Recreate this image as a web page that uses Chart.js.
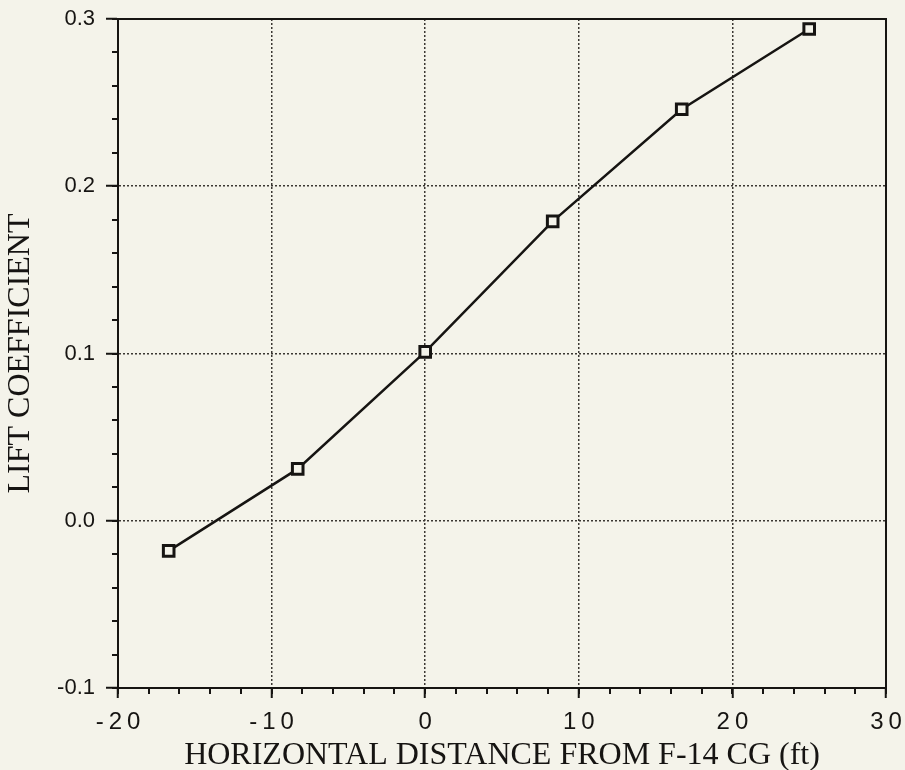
<!DOCTYPE html>
<html>
<head>
<meta charset="utf-8">
<script src="https://cdn.jsdelivr.net/npm/chart.js@4.4.0/dist/chart.umd.min.js"></script>
<style>
  html, body { margin: 0; padding: 0; background: #f4f3ea; }
  #wrap { width: 905px; height: 770px; }
</style>
</head>
<body>
<div id="wrap"><canvas id="liftChart" width="905" height="770"></canvas></div>
<script>
// values
let distances = [-16.7, -8.3, 0, 8.3, 16.7, 25];
let liftCoef = [-0.018, 0.031, 0.101, 0.179, 0.246, 0.294];
let xTicks = [-20, -10, 0, 10, 20, 30];
let yTicks = [-0.1, 0.0, 0.1, 0.2, 0.3];
let xMinorStep = 2;
let yMinorStep = 0.02;

let bg = '#f4f3ea';
let ink = '#161412';
let sansFont = '"Liberation Sans", Arial, sans-serif';
let serifFont = '"Liberation Serif", "Times New Roman", serif';

let points = distances.map((d, i) => ({ x: d, y: liftCoef[i] }));

// background, outer frame, minor ticks and the spaced-out x labels
const frame = {
    id: 'frame',
    beforeDraw(chart) {
        let ctx = chart.ctx;
        ctx.save();
        ctx.fillStyle = bg;
        ctx.fillRect(0, 0, chart.width, chart.height);
        ctx.restore();
    },
    afterDraw(chart) {
        let ctx = chart.ctx;
        let a = chart.chartArea;
        let xs = chart.scales.x;
        let ys = chart.scales.y;
        ctx.save();
        ctx.strokeStyle = ink;
        ctx.lineWidth = 2;
        ctx.strokeRect(a.left, a.top, a.right - a.left, a.bottom - a.top);

        ctx.beginPath();
        for (let v = xs.min; v <= xs.max + 1e-9; v += xMinorStep) {
            let px = Math.round(xs.getPixelForValue(v));
            ctx.moveTo(px, a.bottom);
            ctx.lineTo(px, a.bottom + 6);
        }
        for (let v = ys.min; v <= ys.max + 1e-9; v += yMinorStep) {
            let py = Math.round(ys.getPixelForValue(v));
            ctx.moveTo(a.left, py);
            ctx.lineTo(a.left - 6, py);
        }
        ctx.stroke();

        // x tick labels, letter spaced like the original print
        let spacing = 5;
        ctx.fillStyle = ink;
        ctx.font = '24px ' + sansFont;
        ctx.textAlign = 'center';
        ctx.textBaseline = 'alphabetic';
        ctx.letterSpacing = spacing + 'px';
        xTicks.forEach(v => {
            ctx.fillText(String(v), xs.getPixelForValue(v) + spacing / 2, a.bottom + 41);
        });
        ctx.restore();
    }
};

let ctx = document.getElementById('liftChart').getContext('2d');
let chart = new Chart(ctx, {
    type: 'line',
    data: {
        datasets: [{
            data: points,
            borderColor: ink,
            borderWidth: 2.5,
            pointStyle: 'rect',
            pointRadius: 7.5,
            pointBorderWidth: 3,
            pointBorderColor: ink,
            pointBackgroundColor: bg,
            tension: 0
        }, {
            // little dot in the middle of each marker
            data: points,
            showLine: false,
            pointStyle: 'circle',
            pointRadius: 1.5,
            pointBorderWidth: 0,
            pointBackgroundColor: ink
        }]
    },
    plugins: [frame],
    options: {
        responsive: false,
        animation: false,
        devicePixelRatio: 1,
        layout: { padding: { top: 19, right: 19, left: 0, bottom: 0 } },
        plugins: {
            legend: { display: false },
            tooltip: { enabled: false }
        },
        scales: {
            x: {
                type: 'linear',
                min: -20,
                max: 30,
                afterBuildTicks: (s) => { s.ticks = xTicks.map(v => ({ value: v })); },
                afterFit: (s) => {
                    s.height = 82;
                    s.paddingLeft = 0;
                    s.paddingRight = 0;
                },
                ticks: { display: false },
                grid: {
                    color: '#3a3732',
                    lineWidth: 1.5,
                    tickLength: 10,
                    tickColor: ink,
                    tickWidth: 2
                },
                border: { display: true, color: ink, width: 2, dash: [2, 2] },
                title: {
                    display: true,
                    text: 'HORIZONTAL DISTANCE FROM F-14 CG (ft)',
                    color: ink,
                    padding: { top: 0, bottom: -2 },
                    font: { family: serifFont, size: 32, lineHeight: 1 }
                }
            },
            y: {
                type: 'linear',
                min: -0.1,
                max: 0.3,
                afterBuildTicks: (s) => { s.ticks = yTicks.map(v => ({ value: v })); },
                afterFit: (s) => {
                    s.width = 118;
                    s.paddingTop = 0;
                    s.paddingBottom = 0;
                },
                ticks: {
                    color: ink,
                    padding: 11,
                    font: { family: sansFont, size: 22 },
                    callback: (v) => v.toFixed(1)
                },
                grid: {
                    color: '#3a3732',
                    lineWidth: 1.5,
                    tickLength: 12,
                    tickColor: ink,
                    tickWidth: 2
                },
                border: { display: true, color: ink, width: 2, dash: [2, 2] },
                title: {
                    display: true,
                    text: 'LIFT COEFFICIENT',
                    color: ink,
                    padding: { top: 5, bottom: 0 },
                    font: { family: serifFont, size: 32, lineHeight: 1 }
                }
            }
        }
    }
});
</script>
</body>
</html>
